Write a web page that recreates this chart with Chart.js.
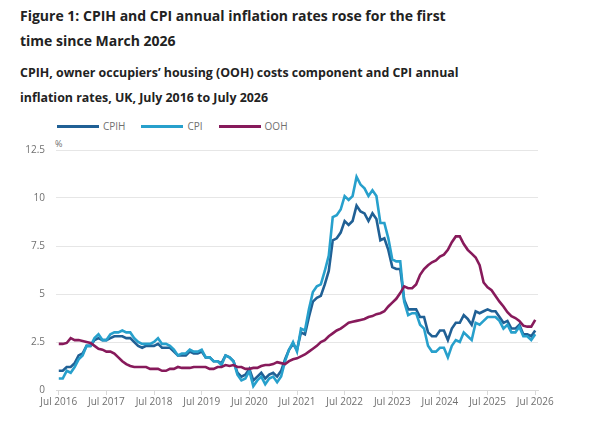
<!DOCTYPE html>
<html>
<head>
<meta charset="utf-8">
<script src="https://cdn.jsdelivr.net/npm/chart.js@4.4.1/dist/chart.umd.min.js"></script>
<style>
  html, body { margin: 0; padding: 0; background: #fff; }
  body { width: 605px; height: 423px; position: relative; overflow: hidden; font-family: "Open Sans", sans-serif; }
  .title { position: absolute; left: 20px; top: 4px; font-size: 14px; font-weight: 700; line-height: 24.5px; color: #222; }
  .subtitle { position: absolute; left: 20px; top: 61px; font-size: 12.4px; font-weight: 700; line-height: 24.5px; color: #222; }
  #legend { position: absolute; left: 57px; top: 119px; height: 14px; display: flex; align-items: center; font-size: 10px; color: #707070; }
  #legend .item { display: flex; align-items: center; margin-right: 16px; }
  #legend .swatch { width: 42px; height: 3px; margin-right: 4px; }
  .unit { position: absolute; left: 55px; top: 137px; font-size: 9px; color: #707070; }
  #wrap { position: absolute; left: 0; top: 130px; width: 605px; height: 293px; }
</style>
</head>
<body>
<div class="title">Figure 1: CPIH and CPI annual inflation rates rose for the first<br>time since March 2026</div>
<div class="subtitle">CPIH, owner occupiers’ housing (OOH) costs component and CPI annual<br>inflation rates, UK, July 2016 to July 2026</div>
<div id="legend"></div>
<div class="unit">%</div>
<div id="wrap"><canvas id="chart"></canvas></div>
<script>
'use strict';

// monthly, July 2016 .. July 2026
const seriesNames = ['CPIH', 'CPI', 'OOH'];
const seriesColors = ['#206095', '#27a0cc', '#871a5b'];

const xTickLabels = ['Jul 2016', 'Jul 2017', 'Jul 2018', 'Jul 2019', 'Jul 2020', 'Jul 2021',
    'Jul 2022', 'Jul 2023', 'Jul 2024', 'Jul 2025', 'Jul 2026'];
const yTickLabels = [0, 2.5, 5, 7.5, 10, 12.5];

const cpih = [
    1.0, 1.0, 1.2, 1.2, 1.4, 1.8,
    1.9, 2.3, 2.3, 2.6, 2.7, 2.6, 2.6, 2.7, 2.8, 2.8, 2.8, 2.7,
    2.7, 2.5, 2.3, 2.2, 2.3, 2.3, 2.3, 2.4, 2.2, 2.2, 2.2, 2.0,
    1.8, 1.8, 1.8, 2.0, 1.9, 1.9, 2.0, 1.7, 1.7, 1.5, 1.5, 1.4,
    1.8, 1.7, 1.5, 0.9, 0.7, 0.8, 1.1, 0.5, 0.7, 0.9, 0.6, 0.8,
    0.9, 0.7, 1.0, 1.6, 2.1, 2.4, 2.1, 3.0, 2.9, 3.8, 4.6, 4.8,
    4.9, 5.5, 6.2, 7.8, 7.9, 8.2, 8.8, 8.6, 8.8, 9.6, 9.3, 9.2,
    8.8, 9.2, 8.9, 7.8, 7.9, 7.3, 6.4, 6.3, 6.3, 4.7, 4.2, 4.2,
    4.2, 3.8, 3.8, 3.0, 2.8, 2.8, 3.1, 3.1, 2.6, 3.2, 3.5, 3.5,
    3.9, 3.7, 3.4, 4.1, 4.0, 4.1, 4.2, 4.1, 4.1, 3.8, 3.5, 3.6,
    3.2, 3.2, 3.4, 2.9, 2.9, 2.8, 3.1
];

const cpi = [
    0.6, 0.6, 1.0, 0.9, 1.2, 1.6,
    1.8, 2.3, 2.3, 2.7, 2.9, 2.6, 2.6, 2.9, 3.0, 3.0, 3.1, 3.0,
    3.0, 2.7, 2.5, 2.4, 2.4, 2.4, 2.5, 2.7, 2.4, 2.4, 2.3, 2.1,
    1.8, 1.9, 1.9, 2.1, 2.0, 2.0, 2.1, 1.7, 1.7, 1.5, 1.5, 1.3,
    1.8, 1.7, 1.5, 0.8, 0.5, 0.6, 1.0, 0.2, 0.5, 0.7, 0.3, 0.6,
    0.7, 0.4, 0.7, 1.5, 2.1, 2.5, 2.0, 3.2, 3.1, 4.2, 5.1, 5.4,
    5.5, 6.2, 7.0, 9.0, 9.1, 9.4, 10.1, 9.9, 10.1, 11.1, 10.7, 10.5,
    10.1, 10.4, 10.1, 8.7, 8.7, 7.9, 6.8, 6.7, 6.7, 4.6, 3.9, 4.0,
    4.0, 3.4, 3.2, 2.3, 2.0, 2.0, 2.2, 2.2, 1.7, 2.3, 2.6, 2.5,
    3.0, 2.8, 2.6, 3.5, 3.4, 3.6, 3.8, 3.8, 3.8, 3.6, 3.2, 3.4,
    3.0, 3.0, 3.3, 2.8, 2.8, 2.6, 2.9
];

const ooh = [
    2.4, 2.4, 2.45, 2.7, 2.6, 2.6,
    2.55, 2.5, 2.45, 2.3, 2.15, 2.1, 2.0, 2.0, 1.9, 1.7, 1.5, 1.35,
    1.25, 1.2, 1.2, 1.2, 1.2, 1.1, 1.1, 1.1, 1.0, 1.0, 1.1, 1.1,
    1.2, 1.15, 1.15, 1.15, 1.2, 1.2, 1.2, 1.2, 1.1, 1.1, 1.2, 1.2,
    1.3, 1.25, 1.3, 1.2, 1.2, 1.1, 1.1, 1.15, 1.15, 1.25, 1.3, 1.3,
    1.35, 1.45, 1.4, 1.35, 1.5, 1.6, 1.65, 1.75, 1.85, 2.0, 2.15, 2.3,
    2.5, 2.6, 2.8, 2.95, 3.1, 3.2, 3.35, 3.5, 3.55, 3.6, 3.65, 3.7,
    3.8, 3.85, 3.95, 4.0, 4.1, 4.35, 4.55, 4.75, 5.05, 5.4, 5.3, 5.3,
    5.5, 6.0, 6.3, 6.5, 6.65, 6.75, 6.95, 7.05, 7.3, 7.7, 8.0, 8.0,
    7.6, 7.3, 7.1, 6.9, 6.5, 5.6, 5.35, 5.2, 4.9, 4.6, 4.35, 4.05,
    3.85, 3.75, 3.6, 3.35, 3.3, 3.3, 3.65
];

const allSeries = [cpih, cpi, ooh];

function toPoints(values){
    return values.map((v, i) => ({x: i, y: v}));
}

function buildLegend(){
    const box = document.getElementById('legend');
    seriesNames.forEach((name, i) => {
        const item = document.createElement('div');
        item.className = 'item';
        item.innerHTML = '<span class="swatch" style="background:' + seriesColors[i] + '"></span>' + name;
        box.appendChild(item);
    });
}

const tickFont = {family: 'Open Sans', size: 10};

const ctx = document.getElementById('chart');
const wykres = new Chart(ctx, {
    type: 'line',
    data: {
        datasets: allSeries.map((values, i) => ({
            label: seriesNames[i],
            data: toPoints(values),
            borderColor: seriesColors[i],
            backgroundColor: seriesColors[i],
            borderWidth: 2.6,
            pointRadius: 0,
            tension: 0,
            order: 3 - i,
        })),
    },
    options: {
        responsive: true,
        maintainAspectRatio: false,
        animation: false,
        layout: {padding: {top: 20, right: 67, left: 0, bottom: 0}},
        plugins: {
            legend: {display: false},
            tooltip: {enabled: false},
        },
        scales: {
            x: {
                type: 'linear',
                min: -0.7,
                max: 120.7,
                afterBuildTicks: function(scale){
                    scale.ticks = xTickLabels.map((t, i) => ({value: i * 12}));
                },
                afterFit: function(scale){ scale.height = 33; },
                ticks: {
                    autoSkip: false,
                    maxRotation: 0,
                    padding: 1,
                    color: '#707070',
                    font: tickFont,
                    callback: function(value){ return xTickLabels[value / 12]; },
                },
                grid: {drawOnChartArea: false, drawTicks: true, tickLength: 5, color: '#d9d9d9'},
                border: {color: '#d9d9d9'},
            },
            y: {
                min: 0,
                max: 12.5,
                afterBuildTicks: function(scale){
                    scale.ticks = yTickLabels.map(v => ({value: v}));
                },
                afterFit: function(scale){ scale.width = 56; },
                ticks: {
                    padding: 11,
                    color: '#707070',
                    font: tickFont,
                    callback: function(value){ return String(value); },
                },
                grid: {drawTicks: false, color: '#e6e6e6'},
                border: {display: false},
            },
        },
    },
});

buildLegend();
</script>
</body>
</html>
